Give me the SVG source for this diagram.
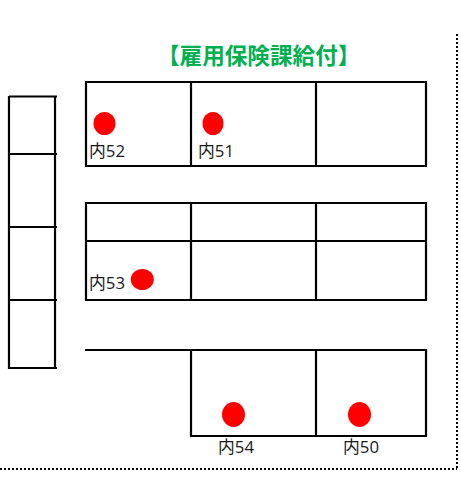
<svg xmlns="http://www.w3.org/2000/svg" width="461" height="477" viewBox="0 0 461 477">
<style>
.l{fill:none;stroke:#000;stroke-width:2.200;stroke-linecap:butt}
.d{fill:none;stroke:#000;stroke-width:2;stroke-dasharray:2 2}
.m{fill:#f00}
.t{font-family:"Open Sans","Noto Sans CJK JP",sans-serif;font-size:16.500px;fill:#1a1a1a}
.h{font-family:"Noto Sans CJK JP",sans-serif;font-size:22.600px;font-weight:700;fill:#00b050}
</style>
<rect width="461" height="477" fill="#fff"/>
<g id="connectors">
<path class="d" d="M457 34V469M0 469H457"/>
</g>
<g id="left-block">
<path class="l" d="M9 96.500H57M9 154H57M9 227H57M9 300H57M9 368H57M9 96V369M55 96V369"/>
</g>
<g id="block-top">
<path class="l" d="M86 82H426V166H86ZM191 82V166M316 82V166"/>
</g>
<g id="block-middle">
<path class="l" d="M86 203H426V300H86ZM86 241H426M191 203V300M316 203V300"/>
</g>
<g id="block-bottom">
<path class="l" d="M85 350H426V436H191V350M316 350V436"/>
</g>
<text class="h" id="title" x="157" y="64">【雇用保険課給付】</text>
<g id="n52"><ellipse class="m" cx="104.500" cy="123.500" rx="11" ry="11.500"/><text class="t" x="89" y="157" textLength="36" lengthAdjust="spacingAndGlyphs">内52</text></g>
<g id="n51"><ellipse class="m" cx="213" cy="123.500" rx="10.500" ry="11.500"/><text class="t" x="198" y="157" textLength="36" lengthAdjust="spacingAndGlyphs">内51</text></g>
<g id="n53"><ellipse class="m" cx="142.300" cy="279.500" rx="11.500" ry="10.500"/><text class="t" x="89" y="289" textLength="36" lengthAdjust="spacingAndGlyphs">内53</text></g>
<g id="n54"><ellipse class="m" cx="233.500" cy="414.500" rx="11.500" ry="12.500"/><text class="t" x="218" y="453" textLength="36" lengthAdjust="spacingAndGlyphs">内54</text></g>
<g id="n50"><ellipse class="m" cx="359.500" cy="414.500" rx="11.500" ry="12.500"/><text class="t" x="343" y="453" textLength="36" lengthAdjust="spacingAndGlyphs">内50</text></g>
</svg>
